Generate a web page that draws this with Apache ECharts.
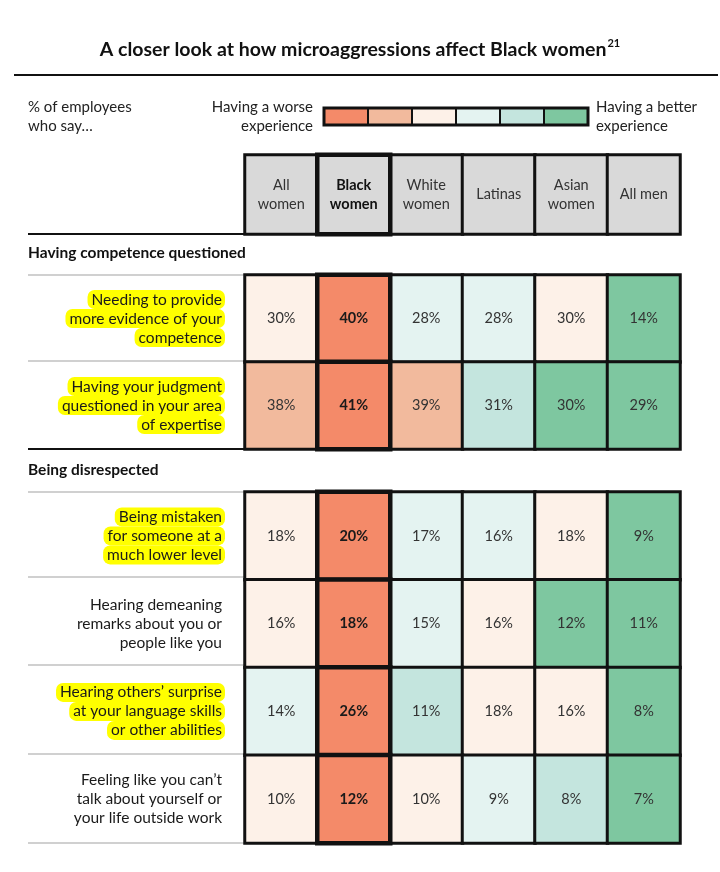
<!DOCTYPE html>
<html>
<head>
<meta charset="utf-8">
<script src="https://cdn.jsdelivr.net/npm/echarts@6/dist/echarts.min.js"></script>
<style>
html,body{margin:0;padding:0;background:#fff;}
#chart{width:720px;height:872px;}
</style>
</head>
<body>
<div id="chart"></div>
<script>
// ---------- DATA ----------
const groups = ['All women', 'Black women', 'White women', 'Latinas', 'Asian women', 'All men'];
const groupLabels = ['All\nwomen', 'Black\nwomen', 'White\nwomen', 'Latinas', 'Asian\nwomen', 'All men'];

const section1Title = 'Having competence questioned';
const rows1 = [
  ['Needing to provide', 'more evidence of your', 'competence'],
  ['Having your judgment', 'questioned in your area', 'of expertise']
];
const highlight1 = [true, true];
const values1 = [
  [30, 40, 28, 28, 30, 14],
  [38, 41, 39, 31, 30, 29]
];
// colour level: 0 = much worse ... 5 = much better
const levels1 = [
  [2, 0, 3, 3, 2, 5],
  [1, 0, 1, 4, 5, 5]
];

const section2Title = 'Being disrespected';
const rows2 = [
  ['Being mistaken', 'for someone at a', 'much lower level'],
  ['Hearing demeaning', 'remarks about you or', 'people like you'],
  ['Hearing others\u2019 surprise', 'at your language skills', 'or other abilities'],
  ['Feeling like you can\u2019t', 'talk about yourself or', 'your life outside work']
];
const highlight2 = [true, false, true, false];
const values2 = [
  [18, 20, 17, 16, 18, 9],
  [16, 18, 15, 16, 12, 11],
  [14, 26, 11, 18, 16, 8],
  [10, 12, 10, 9, 8, 7]
];
const levels2 = [
  [2, 0, 3, 3, 2, 5],
  [2, 0, 3, 2, 5, 5],
  [3, 0, 4, 2, 2, 5],
  [2, 0, 2, 3, 4, 5]
];

const palette = ['#F48A69', '#F2BA9D', '#FDF1E8', '#E4F3F1', '#C4E5DE', '#7EC7A0'];
const headerColor = '#D9D9D9';

// ---------- BUILD ----------
const FONT = 'Lato, "Open Sans", sans-serif';
const BW = 1; // index of Black women

function buildCells(values, levels) {
  const out = [];
  const order = [0, 2, 3, 4, 5, BW];
  values.forEach((row, r) => {
    order.forEach(c => {
      out.push({
        value: [c, r, row[c], levels[r][c]],
        itemStyle: c === BW ? { borderWidth: 4.5 } : undefined,
        label: c === BW ? { fontWeight: 'bold', color: '#1a1a1a' } : undefined
      });
    });
  });
  return out;
}

function rowLabel(rows, hl) {
  return rows.map((lines, i) => {
    const key = hl[i] ? 'h' : 'n';
    return lines.map(l => '{' + key + '|' + l + '}').join('\n');
  });
}

const headerCells = groups.map((g, i) => ({
  value: [i, 0, 0, 6],
  itemStyle: i === BW ? { borderWidth: 4.5 } : undefined
}));
const headerOrdered = [0, 2, 3, 4, 5, BW].map(i => headerCells[i]);

const richRow = {
  h: { fontFamily: FONT, fontSize: 15.5, color: '#1a1a1a', height: 19, lineHeight: 19, backgroundColor: '#FFFF00', borderRadius: 7, padding: [0, 3, 0, 4] },
  n: { fontFamily: FONT, fontSize: 15.5, color: '#1a1a1a', height: 19, lineHeight: 19, padding: [0, 3, 0, 4] }
};

const chart = echarts.init(document.getElementById('chart'), null, { renderer: 'canvas' });

const legendLeft = 324, legendTop = 108, legendW = 44, legendH = 17;
const legendRects = palette.map((c, i) => ({
  type: 'rect',
  shape: { x: legendLeft + i * legendW, y: legendTop, width: legendW, height: legendH },
  style: { fill: c, stroke: '#111', lineWidth: 2 }
}));

function hline(y, color, w) {
  return { type: 'line', shape: { x1: 28, y1: y, x2: 245, y2: y }, style: { stroke: color, lineWidth: w }, z: 0 };
}
function txt(x, y, s, align, bold) {
  return { type: 'text', x: x, y: y, style: { text: s, font: (bold ? 'bold 15.5px ' : '15px ') + FONT, fill: bold ? '#111' : '#222', align: align || 'left', verticalAlign: 'middle' } };
}

const option = {
  backgroundColor: '#fff',
  animation: false,
  textStyle: { fontFamily: FONT },
  title: {
    text: '{t|A closer look at how microaggressions affect Black women}{s|21}',
    left: 'center',
    top: 33,
    textStyle: {
      rich: {
        t: { fontFamily: FONT, fontSize: 19.5, fontWeight: 'bold', color: '#111', lineHeight: 24 },
        s: { fontFamily: FONT, fontSize: 11, fontWeight: 'bold', color: '#111', verticalAlign: 'top', lineHeight: 24, padding: [0, 0, 11, 1] }
      }
    }
  },
  visualMap: {
    type: 'piecewise',
    show: false,
    dimension: 3,
    seriesIndex: [0, 1, 2],
    pieces: palette.map((c, i) => ({ value: i, color: c })).concat([{ value: 6, color: headerColor }])
  },
  grid: [
    { left: 245, top: 155, width: 435, height: 79 },
    { left: 245, top: 275, width: 435, height: 174 },
    { left: 245, top: 492, width: 435, height: 351 }
  ],
  xAxis: [0, 1, 2].map(g => ({
    type: 'category', gridIndex: g, data: groups,
    axisLine: { show: false }, axisTick: { show: false }, axisLabel: { show: false }, splitLine: { show: false }
  })),
  yAxis: [
    { type: 'category', gridIndex: 0, data: ['hdr'], show: false },
    {
      type: 'category', gridIndex: 1, data: rowLabel(rows1, highlight1), inverse: true,
      axisLine: { show: false }, axisTick: { show: false },
      axisLabel: { margin: 20, align: 'right', rich: richRow }
    },
    {
      type: 'category', gridIndex: 2, data: rowLabel(rows2, highlight2), inverse: true,
      axisLine: { show: false }, axisTick: { show: false },
      axisLabel: { margin: 20, align: 'right', rich: richRow }
    }
  ],
  series: [
    {
      type: 'heatmap', xAxisIndex: 0, yAxisIndex: 0, data: headerOrdered,
      itemStyle: { borderColor: '#111', borderWidth: 3 },
      emphasis: { disabled: true },
      label: {
        show: true,
        formatter: p => {
          const t = groupLabels[p.value[0]];
          const k = p.value[0] === BW ? 'b' : 'r';
          return t.split('\n').map(l => '{' + k + '|' + l + '}').join('\n');
        },
        rich: {
          r: { fontFamily: FONT, fontSize: 14.5, color: '#333', lineHeight: 19 },
          b: { fontFamily: FONT, fontSize: 14.5, color: '#111', fontWeight: 'bold', lineHeight: 19 }
        }
      }
    },
    {
      type: 'heatmap', xAxisIndex: 1, yAxisIndex: 1, data: buildCells(values1, levels1),
      itemStyle: { borderColor: '#111', borderWidth: 3 },
      emphasis: { disabled: true },
      label: { show: true, formatter: p => p.value[2] + '%', fontFamily: FONT, fontSize: 14.5, color: '#333' }
    },
    {
      type: 'heatmap', xAxisIndex: 2, yAxisIndex: 2, data: buildCells(values2, levels2),
      itemStyle: { borderColor: '#111', borderWidth: 3 },
      emphasis: { disabled: true },
      label: { show: true, formatter: p => p.value[2] + '%', fontFamily: FONT, fontSize: 14.5, color: '#333' }
    }
  ],
  graphic: [
    { type: 'line', shape: { x1: 14, y1: 75, x2: 718, y2: 75 }, style: { stroke: '#111', lineWidth: 2 } },
    txt(28, 107, '% of employees'),
    txt(28, 126, 'who say\u2026'),
    txt(313, 107, 'Having a worse', 'right'),
    txt(313, 126, 'experience', 'right'),
    txt(596, 107, 'Having a better'),
    txt(596, 126, 'experience'),
    { type: 'group', children: legendRects.concat([{
      type: 'rect', shape: { x: legendLeft, y: legendTop, width: legendW * 6, height: legendH },
      style: { fill: 'none', stroke: '#111', lineWidth: 3 }
    }]) },
    txt(28, 253, section1Title, 'left', true),
    txt(28, 470, section2Title, 'left', true),
    hline(234, '#111', 2),
    hline(275, '#d0d0d0', 2),
    hline(361, '#d0d0d0', 2),
    hline(449, '#111', 2),
    hline(492, '#d0d0d0', 2),
    hline(577, '#d0d0d0', 2),
    hline(665, '#d0d0d0', 2),
    hline(754, '#d0d0d0', 2),
    hline(843, '#d0d0d0', 2)
  ]
};

chart.setOption(option);
</script>
</body>
</html>
